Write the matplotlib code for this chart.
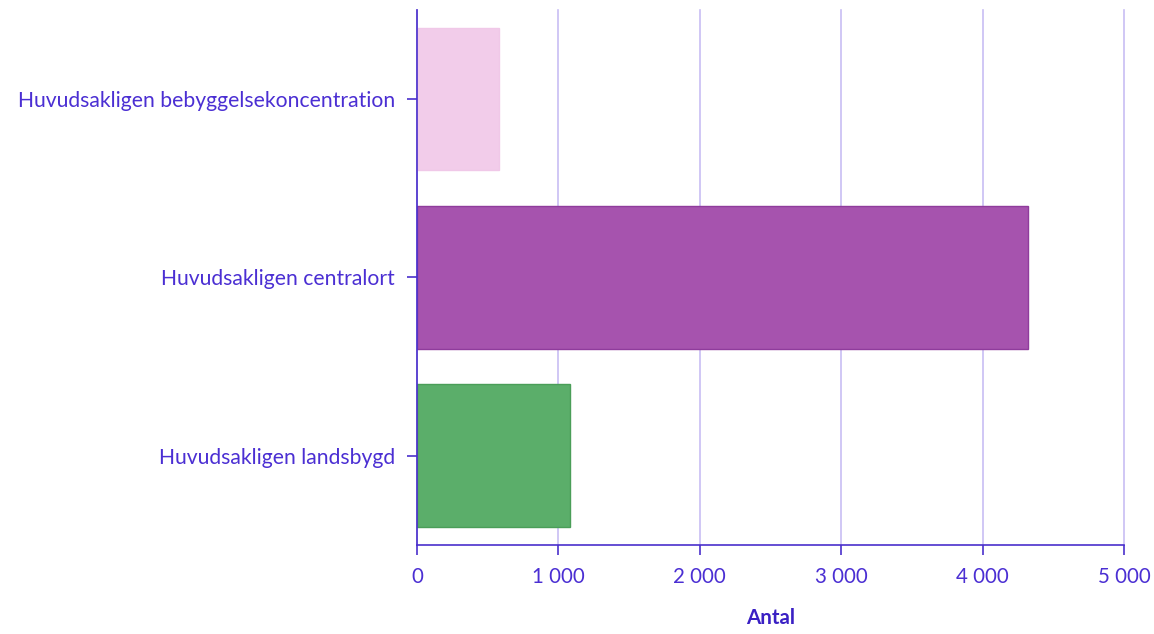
import matplotlib
matplotlib.use("Agg")
import matplotlib.pyplot as plt
from matplotlib.ticker import FuncFormatter

categories = ["Huvudsakligen bebyggelsekoncentration", "Huvudsakligen centralort", "Huvudsakligen landsbygd"]
values = [580, 4323, 1082]
colors = ["#F2CCEA", "#A653AE", "#5BAE6A"]
edges = ["#F0C8E8", "#8F3C9C", "#4A9E58"]
xticks = [0, 1000, 2000, 3000, 4000, 5000]

plt.rcParams['font.family'] = ['Lato', 'DejaVu Sans']
txt = "#4B2FD3"
axc = "#4A30CC"

fig = plt.figure(figsize=(11.54, 6.34), dpi=100)
ax = fig.add_axes([417/1154, 1-545/634, (1124-417)/1154, (545-10)/634])

ypos = list(range(len(categories)))
ax.barh(ypos, values, height=0.8, color=colors, edgecolor=edges, linewidth=1, zorder=3)
ax.set_ylim(len(categories)-0.5, -0.5)
ax.set_xlim(0, 5000)
ax.set_yticks(ypos)
ax.set_yticklabels(categories)
ax.set_xticks(xticks)
ax.xaxis.set_major_formatter(FuncFormatter(lambda v, p: f"{int(v):,}".replace(",", " ")))
ax.grid(axis='x', color="#C8BDF4", linewidth=1.2, zorder=0)
for gl in ax.get_xgridlines():
    gl.set_clip_on(False)
for s in ["top", "right"]:
    ax.spines[s].set_visible(False)
for s in ["left", "bottom"]:
    ax.spines[s].set_color(axc)
    ax.spines[s].set_linewidth(1.2)
    ax.spines[s].set_zorder(4)
ax.tick_params(axis='both', colors=axc, labelcolor=txt, length=7, width=1.2)
ax.tick_params(axis='x', pad=9, labelsize=14.8)
ax.tick_params(axis='y', pad=9, labelsize=15.2)
ax.set_xlabel("Antal", color="#3A20C4", fontsize=14.8, fontweight='bold', labelpad=15)

fig.savefig("out.png", dpi=100)
